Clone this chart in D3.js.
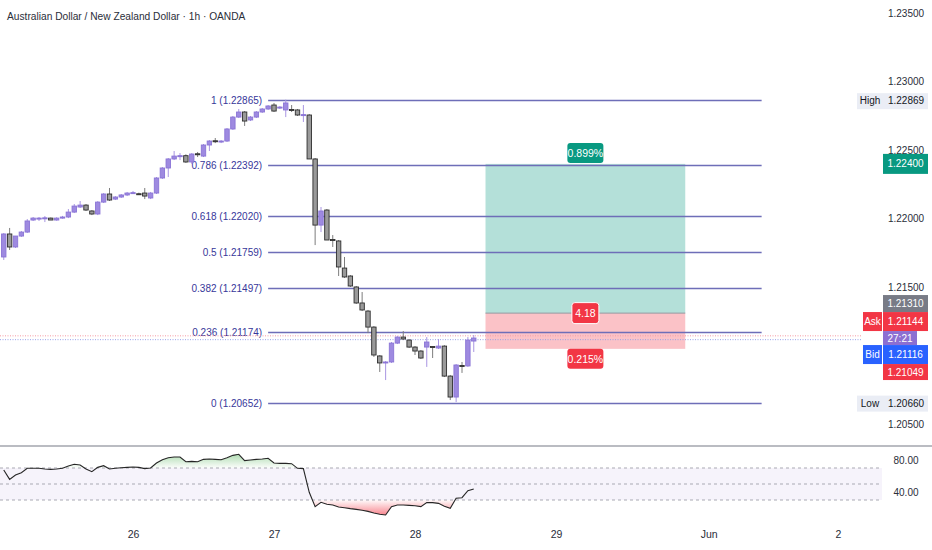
<!DOCTYPE html>
<html><head><meta charset="utf-8">
<script src="https://cdn.jsdelivr.net/npm/d3@7"></script>
<style>body{margin:0;background:#fff}svg{display:block}</style>
</head><body><svg id="c" width="932" height="550"></svg>
<script>
const title = "Australian Dollar / New Zealand Dollar · 1h · OANDA";
const firstBar = -22;
const opens = [
1.21720,1.21888,1.21793,1.21873,1.21902,1.21990,1.22000,1.22004,1.22004,1.21990,
1.22004,1.22012,1.22048,1.22085,1.22099,1.22056,1.22034,1.22121,1.22180,1.22143,
1.22158,1.22173,1.22184,1.22182,1.22187,1.22151,1.22187,1.22297,1.22370,1.22436,
1.22457,1.22460,1.22414,1.22474,1.22457,1.22538,1.22569,1.22560,1.22567,1.22655,
1.22742,1.22779,1.22721,1.22742,1.22779,1.22801,1.22830,1.22808,1.22794,1.22797,
1.22794,1.22757,1.22757,1.22436,1.21953,1.22063,1.21848,1.21837,1.21639,1.21581,
1.21501,1.21384,1.21325,1.21208,1.20997,1.20946,1.20953,1.21091,1.21135,1.21113,
1.21062,1.21033,1.21062,1.21066,1.21055,1.21069,1.20850,1.20697,1.20927,1.20924,
1.21106];
const highs = [
1.21895,1.21932,1.21873,1.21910,1.21997,1.22012,1.22012,1.22019,1.22008,1.22010,
1.22020,1.22070,1.22107,1.22129,1.22107,1.22063,1.22128,1.22187,1.22224,1.22165,
1.22180,1.22195,1.22202,1.22190,1.22224,1.22195,1.22304,1.22377,1.22443,1.22494,
1.22479,1.22470,1.22479,1.22487,1.22545,1.22574,1.22589,1.22574,1.22662,1.22750,
1.22801,1.22786,1.22750,1.22786,1.22808,1.22830,1.22845,1.22823,1.22869,1.22830,
1.22801,1.22830,1.22764,1.22443,1.22085,1.22070,1.21880,1.21844,1.21720,1.21588,
1.21508,1.21464,1.21333,1.21215,1.21004,1.20960,1.21099,1.21142,1.21179,1.21120,
1.21069,1.21040,1.21135,1.21066,1.21121,1.21076,1.20858,1.20938,1.20953,1.21135,
1.21150];
const lows = [
1.21698,1.21771,1.21786,1.21866,1.21895,1.21983,1.21983,1.21975,1.21990,1.21985,
1.22000,1.22004,1.22041,1.22078,1.22056,1.22026,1.22026,1.22114,1.22129,1.22136,
1.22151,1.22165,1.22180,1.22173,1.22143,1.22143,1.22180,1.22290,1.22304,1.22428,
1.22428,1.22407,1.22400,1.22450,1.22450,1.22494,1.22552,1.22552,1.22560,1.22648,
1.22735,1.22677,1.22713,1.22735,1.22772,1.22794,1.22779,1.22801,1.22742,1.22779,
1.22750,1.22706,1.22436,1.21807,1.21902,1.21844,1.21793,1.21581,1.21567,1.21501,
1.21377,1.21325,1.21164,1.20990,1.20880,1.20821,1.20946,1.21084,1.21113,1.21055,
1.21004,1.20975,1.20917,1.20982,1.21048,1.20843,1.20675,1.20660,1.20873,1.20917,
1.21026];
const closes = [
1.21888,1.21793,1.21873,1.21902,1.21983,1.22004,1.22004,1.22006,1.21990,1.22004,
1.22012,1.22048,1.22092,1.22099,1.22063,1.22034,1.22121,1.22180,1.22136,1.22158,
1.22173,1.22187,1.22190,1.22180,1.22165,1.22187,1.22297,1.22370,1.22436,1.22457,
1.22460,1.22414,1.22472,1.22470,1.22538,1.22567,1.22565,1.22567,1.22655,1.22742,
1.22779,1.22713,1.22742,1.22779,1.22801,1.22823,1.22786,1.22815,1.22845,1.22794,
1.22757,1.22760,1.22436,1.21953,1.22056,1.21844,1.21840,1.21647,1.21574,1.21508,
1.21384,1.21333,1.21208,1.21004,1.20946,1.20953,1.21091,1.21135,1.21121,1.21062,
1.21033,1.20982,1.21099,1.21062,1.21069,1.20850,1.20697,1.20931,1.20924,1.21113,
1.21128];
const rsiValues = [
67.5,55.8,61.3,64.2,69.6,69.6,69.6,68.8,68.3,68.8,
69.6,72.5,74.6,73.8,68.8,65.4,70.8,72.9,68.8,69.6,
70.4,70.8,71.3,70.8,69.2,70,76.3,80.4,82.9,83.8,
83.8,77.9,78.3,77.9,80.8,81.3,80.8,80.4,82.9,85.8,
87.1,79.2,80,80.8,81.3,82.1,76.3,75.8,75.8,75.4,
69.6,69.2,39.6,21.7,27.1,24.6,23.8,21.3,20.4,19.2,
18.3,17.1,15.8,13.8,12.1,11.3,21.7,23.8,23.8,23.3,
22.9,21.7,26.7,26.7,25.8,22.1,19.6,32.1,32.9,41.7,
43.8];
const priceTicks = [1.205, 1.215, 1.22, 1.225, 1.23, 1.235];
const rsiTicks = [80, 40];
const rsiLevels = [70, 50, 30];
const dayTicks = [0, 24, 48, 72, 98, 120];
const dayLabels = ["26", "27", "28", "29", "Jun", "2"];
const fibLevels = [1, 0.786, 0.618, 0.5, 0.382, 0.236, 0];
const fibPrices = [1.22865, 1.22392, 1.22020, 1.21759, 1.21497, 1.21174, 1.20652];
const fibSpan = [23, 107];
const positionSpan = [60, 94];
const targetPrice = 1.22400, entryPrice = 1.21310, stopPrice = 1.21049;
const positionLabels = ["0.899%", "4.18", "0.215%"];
const askPrice = 1.21144, bidPrice = 1.21116;
const highPrice = 1.22869, lowPrice = 1.20660;
const countdown = "27:21";

const svg = d3.select("#c");
const W = 932;
const FONT = "'Liberation Sans', Arial, sans-serif";
const x = d3.scaleLinear().domain([0, 24]).range([133, 274]);
const y = d3.scaleLinear().domain([1.205, 1.235]).range([424, 13.3]);
const yr = d3.scaleLinear().domain([40, 80]).range([492, 460]);
const fmt = d3.format(".5f");

const defs = svg.append("defs");
const gG = defs.append("linearGradient").attr("id", "gUp").attr("gradientUnits", "userSpaceOnUse")
  .attr("x1", 0).attr("x2", 0).attr("y1", yr(70)).attr("y2", yr(100));
gG.append("stop").attr("offset", 0).attr("stop-color", "rgb(76,175,80)").attr("stop-opacity", 0.02);
gG.append("stop").attr("offset", 1).attr("stop-color", "rgb(76,175,80)").attr("stop-opacity", 0.75);
const gR = defs.append("linearGradient").attr("id", "gDn").attr("gradientUnits", "userSpaceOnUse")
  .attr("x1", 0).attr("x2", 0).attr("y1", yr(30)).attr("y2", yr(0));
gR.append("stop").attr("offset", 0).attr("stop-color", "rgb(242,54,69)").attr("stop-opacity", 0.02);
gR.append("stop").attr("offset", 1).attr("stop-color", "rgb(242,54,69)").attr("stop-opacity", 0.95);
defs.append("clipPath").attr("id", "cUp").append("rect").attr("x", 0).attr("y", 440).attr("width", W).attr("height", yr(70) - 440);
defs.append("clipPath").attr("id", "cDn").append("rect").attr("x", 0).attr("y", yr(30)).attr("width", W).attr("height", 40);

// title
svg.append("text").attr("x", 7).attr("y", 20).text(title)
  .attr("font-family", FONT).attr("font-size", 10.2).attr("fill", "#2a2e39");

// position tool
const px0 = x(positionSpan[0]), px1 = x(positionSpan[1]);
svg.append("rect").attr("x", px0).attr("width", px1 - px0).attr("y", y(targetPrice)).attr("height", y(entryPrice) - y(targetPrice)).attr("fill", "rgba(8,153,129,0.3)");
svg.append("rect").attr("x", px0).attr("width", px1 - px0).attr("y", y(entryPrice)).attr("height", y(stopPrice) - y(entryPrice)).attr("fill", "rgba(242,54,69,0.3)");
svg.append("line").attr("x1", px0).attr("x2", px1).attr("y1", y(entryPrice)).attr("y2", y(entryPrice)).attr("stroke", "#9598a1").attr("stroke-width", 1);

// fib
const fg = svg.append("g");
fibLevels.forEach((lv, i) => {
  const yy = Math.round(y(fibPrices[i])) + 0.5;
  fg.append("line").attr("x1", x(fibSpan[0])).attr("x2", x(fibSpan[1])).attr("y1", yy).attr("y2", yy)
    .attr("stroke", "#6e6eb8").attr("stroke-width", 1.3);
  fg.append("text").attr("x", x(fibSpan[0]) - 6).attr("y", yy).attr("dy", "0.36em").attr("text-anchor", "end")
    .attr("font-family", FONT).attr("font-size", 10).attr("fill", "#37379a")
    .text(`${lv} (${fmt(fibPrices[i])})`);
});

// ask / bid dotted lines
[[askPrice, "#f59aa1"], [bidPrice, "#9aa3e8"]].forEach(([p, c]) => {
  svg.append("line").attr("x1", 0).attr("x2", 862).attr("y1", y(p)).attr("y2", y(p))
    .attr("stroke", c).attr("stroke-width", 1).attr("stroke-dasharray", "1,1.5");
});

// candles
const cg = svg.append("g");
opens.forEach((o, k) => {
  const c = closes[k], h = highs[k], l = lows[k];
  const cx = x(firstBar + k);
  const up = c >= o;
  cg.append("line").attr("x1", cx).attr("x2", cx).attr("y1", y(h)).attr("y2", y(l))
    .attr("stroke", up ? "#a895e2" : "#7d7d7d").attr("stroke-width", 1);
  const top = y(Math.max(o, c)), bot = y(Math.min(o, c));
  cg.append("rect").attr("x", cx - 2.2).attr("width", 4.4).attr("y", top).attr("height", Math.max(1, bot - top))
    .attr("fill", up ? "#9e8ae0" : "#9a9a9a").attr("stroke", up ? "#8a74d6" : "#2e2e2e").attr("stroke-width", 0.9);
});

// label helper
function tag(x0, w, yc, h, fill, text, color, opts = {}) {
  const g = svg.append("g");
  g.append("rect").attr("x", x0).attr("y", yc - h / 2).attr("width", w).attr("height", h)
    .attr("rx", opts.rx || 0).attr("fill", fill).attr("stroke", opts.stroke || "none").attr("stroke-width", opts.stroke ? 1 : 0);
  g.append("text").attr("x", x0 + w / 2).attr("y", yc).attr("dy", "0.36em").attr("text-anchor", "middle")
    .attr("font-family", FONT).attr("font-size", opts.fs || 10).attr("font-weight", opts.bold ? "bold" : "normal")
    .attr("fill", color).text(text);
}

// position labels
const pcx = (px0 + px1) / 2;
tag(pcx - 18, 36, y(targetPrice) - 11, 20, "#089981", positionLabels[0], "#fff", { rx: 3, fs: 10.5 });
tag(pcx - 13.5, 27, y(entryPrice), 21, "#f23645", positionLabels[1], "#fff", { rx: 3, fs: 10.5, stroke: "#fff" });
tag(pcx - 18, 36, y(stopPrice) + 10, 20, "#f23645", positionLabels[2], "#fff", { rx: 3, fs: 10.5 });

// right price axis
const ax = svg.append("g").attr("transform", "translate(906,0)")
  .call(d3.axisRight(y).tickValues(priceTicks).tickFormat(fmt).tickSize(0).tickPadding(0));
ax.select(".domain").remove();
ax.selectAll("text").attr("text-anchor", "middle").attr("font-family", FONT).attr("font-size", 10).attr("fill", "#2a2e39");

// high / low tags
[[highPrice, "High"], [lowPrice, "Low"]].forEach(([p, t]) => {
  const yc = y(p) + 1;
  svg.append("rect").attr("x", 857).attr("y", yc - 7.5).attr("width", 71).attr("height", 16).attr("fill", "#eaedf5");
  svg.append("text").attr("x", 870).attr("y", yc).attr("dy", "0.36em").attr("text-anchor", "middle")
    .attr("font-family", FONT).attr("font-size", 10).attr("fill", "#131722").text(t);
  svg.append("text").attr("x", 906).attr("y", yc).attr("dy", "0.36em").attr("text-anchor", "middle")
    .attr("font-family", FONT).attr("font-size", 10).attr("fill", "#131722").text(fmt(p));
});
tag(883, 45, y(targetPrice), 20, "#089981", fmt(targetPrice), "#fff");

// stacked right labels with collision resolution
const stack = [
  { v: entryPrice, h: 17, fill: "#787b86", text: fmt(entryPrice) },
  { v: askPrice, h: 19, fill: "#f23645", text: fmt(askPrice), side: "Ask" },
  { v: (askPrice + bidPrice) / 2, h: 14, fill: "#8c6fd2", text: countdown, w: 34 },
  { v: bidPrice, h: 19, fill: "#2962ff", text: fmt(bidPrice), side: "Bid" },
  { v: stopPrice, h: 16, fill: "#f23645", text: fmt(stopPrice) }
];
let groups = stack.map(s => ({ items: [s], c: y(s.v), h: s.h }));
let changed = true;
while (changed) {
  changed = false;
  for (let i = 0; i < groups.length - 1; i++) {
    const a = groups[i], b = groups[i + 1];
    if (a.c + a.h / 2 > b.c - b.h / 2) {
      const items = a.items.concat(b.items);
      const c = d3.mean(items, s => y(s.v)) + 2.5;
      groups.splice(i, 2, { items, c, h: a.h + b.h });
      changed = true; break;
    }
  }
}
groups.forEach(g => {
  let t = g.c - g.h / 2;
  g.items.forEach(s => {
    const yc = t + s.h / 2;
    tag(883, s.w || 45, yc, s.h, s.fill, s.text, "#fff");
    if (s.side) tag(863, 19, yc, s.h, s.fill, s.side, "#fff");
    t += s.h;
  });
});

// RSI pane
svg.append("line").attr("x1", 0).attr("x2", W).attr("y1", 446).attr("y2", 446).attr("stroke", "#a3a6ae").attr("stroke-width", 1.5);
svg.append("rect").attr("x", 0).attr("width", 882).attr("y", yr(70)).attr("height", yr(30) - yr(70)).attr("fill", "rgba(126,87,194,0.07)");
rsiLevels.forEach(l => {
  svg.append("line").attr("x1", 0).attr("x2", 882).attr("y1", yr(l)).attr("y2", yr(l))
    .attr("stroke", "#a9a9b3").attr("stroke-width", 1).attr("stroke-dasharray", "3,3");
});
const rsiPts = rsiValues.map((v, k) => [x(firstBar + k), v]);
const areaUp = d3.area().x(d => d[0]).y0(yr(70)).y1(d => yr(d[1]));
svg.append("path").attr("d", areaUp(rsiPts)).attr("fill", "url(#gUp)").attr("clip-path", "url(#cUp)");
svg.append("path").attr("d", areaUp(rsiPts)).attr("fill", "url(#gDn)").attr("clip-path", "url(#cDn)");
svg.append("path").attr("d", d3.line().x(d => d[0]).y(d => yr(d[1]))(rsiPts))
  .attr("fill", "none").attr("stroke", "#262626").attr("stroke-width", 1.1);
const rax = svg.append("g").attr("transform", "translate(906,0)")
  .call(d3.axisRight(yr).tickValues(rsiTicks).tickFormat(d3.format(".2f")).tickSize(0).tickPadding(0));
rax.select(".domain").remove();
rax.selectAll("text").attr("text-anchor", "middle").attr("font-family", FONT).attr("font-size", 10).attr("fill", "#2a2e39");

// time axis
const tax = svg.append("g").attr("transform", "translate(0,531)")
  .call(d3.axisBottom(x).tickValues(dayTicks).tickFormat((d, i) => dayLabels[i]).tickSize(0).tickPadding(0));
tax.select(".domain").remove();
tax.selectAll("text").attr("font-family", FONT).attr("font-size", 10.5).attr("fill", "#2a2e39");
</script></body></html>
